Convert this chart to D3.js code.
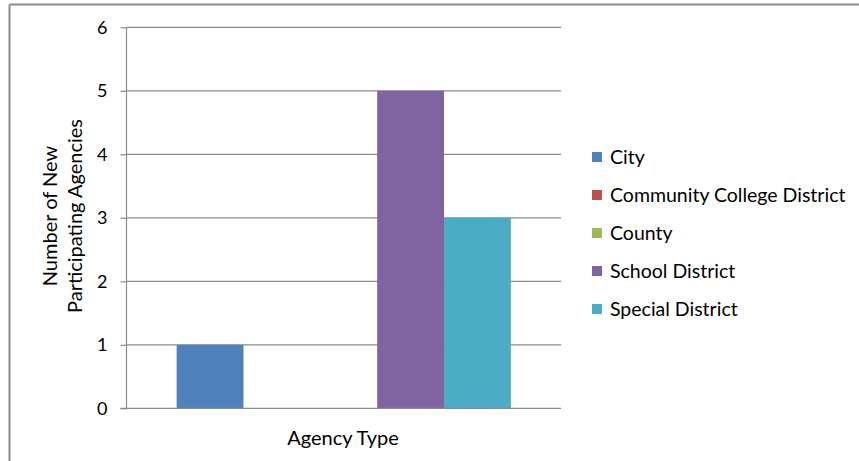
<!DOCTYPE html>
<html>
<head>
<meta charset="utf-8">
<script src="https://cdn.jsdelivr.net/npm/d3@7"></script>
<style>
  body { margin: 0; background: #fff; }
  text { font-family: Lato, "Open Sans", sans-serif; fill: #000; }
</style>
</head>
<body>
<div id="chart"></div>
<script>
// data
var categories = ["Agency Type"];
var seriesNames = ["City", "Community College District", "County", "School District", "Special District"];
var seriesValues = [1, 0, 0, 5, 3];
var seriesColors = ["#4F81BD", "#C0504D", "#9BBB59", "#8064A2", "#4BACC6"];
var yTicks = [0, 1, 2, 3, 4, 5, 6];

var svgWidth = 859, svgHeight = 461;
var margin = { top: 27.3, left: 126.5, right: 298, bottom: 52.7 };
var width = svgWidth - margin.left - margin.right;
var height = svgHeight - margin.top - margin.bottom;

var svg = d3.select("#chart").append("svg")
  .attr("width", svgWidth)
  .attr("height", svgHeight);

// outer frame (only top and left edges visible)
svg.append("line").attr("x1", 9.5).attr("x2", 859).attr("y1", 4.5).attr("y2", 4.5)
  .attr("stroke", "#8a8a8a").attr("stroke-width", 2);
svg.append("line").attr("x1", 9.5).attr("x2", 9.5).attr("y1", 4.5).attr("y2", 461)
  .attr("stroke", "#8a8a8a").attr("stroke-width", 2);

var g = svg.append("g").attr("transform", `translate(${margin.left}, ${margin.top})`);

var yScale = d3.scaleLinear().domain([0, 6]).range([height, 0]);

// one category, bars with 150% gap width split on both sides
var nBars = seriesNames.length;
var barW = width / (nBars + 1.5);
var x1 = d3.scaleBand().domain(seriesNames).range([barW * 0.75, width - barW * 0.75]);

// gridlines
g.selectAll(".grid").data(yTicks.filter(d => d > 0)).enter().append("line")
  .attr("x1", 0).attr("x2", width)
  .attr("y1", d => yScale(d)).attr("y2", d => yScale(d))
  .attr("stroke", "#8c8c8c").attr("stroke-width", 1.2);

// bars
g.selectAll("rect").data(seriesValues).enter().append("rect")
  .attr("x", (d, i) => x1(seriesNames[i]))
  .attr("width", x1.bandwidth())
  .attr("y", d => yScale(d))
  .attr("height", d => height - yScale(d))
  .attr("fill", (d, i) => seriesColors[i]);

// y axis
var leftAxis = d3.axisLeft(yScale).tickValues(yTicks).tickSize(6).tickPadding(13).tickFormat(d3.format("d"));
var yAxis = g.append("g").call(leftAxis);
yAxis.select(".domain").remove();
yAxis.selectAll("line").attr("stroke", "#8c8c8c").attr("stroke-width", 1.2);
yAxis.selectAll("text").style("font-size", "18px").style("font-family", "Lato");
g.append("line").attr("x1", 0).attr("x2", 0).attr("y1", 0).attr("y2", height)
  .attr("stroke", "#8c8c8c").attr("stroke-width", 1.2);
// x axis line
g.append("line").attr("x1", -6).attr("x2", width).attr("y1", height).attr("y2", height)
  .attr("stroke", "#8c8c8c").attr("stroke-width", 1.2);

// axis titles
svg.append("text")
  .attr("x", 343).attr("y", 445)
  .attr("text-anchor", "middle")
  .style("font-size", "20px")
  .text(categories[0]);

var yTitle = svg.append("text")
  .attr("transform", "translate(57, 216) rotate(-90)")
  .attr("text-anchor", "middle")
  .style("font-size", "20px");
yTitle.append("tspan").attr("x", 0).attr("dy", 0).text("Number of New");
yTitle.append("tspan").attr("x", 0).attr("dy", 25).text("Participating Agencies");

// legend
var legend = svg.append("g").attr("transform", "translate(592, 152)");
var items = legend.selectAll("g").data(seriesNames).enter().append("g")
  .attr("transform", (d, i) => `translate(0, ${i * 38})`);
items.append("rect").attr("width", 10).attr("height", 10)
  .attr("fill", (d, i) => seriesColors[i]);
items.append("text").attr("x", 18).attr("y", 12)
  .style("font-size", "19.5px")
  .text(d => d);
</script>
</body>
</html>
